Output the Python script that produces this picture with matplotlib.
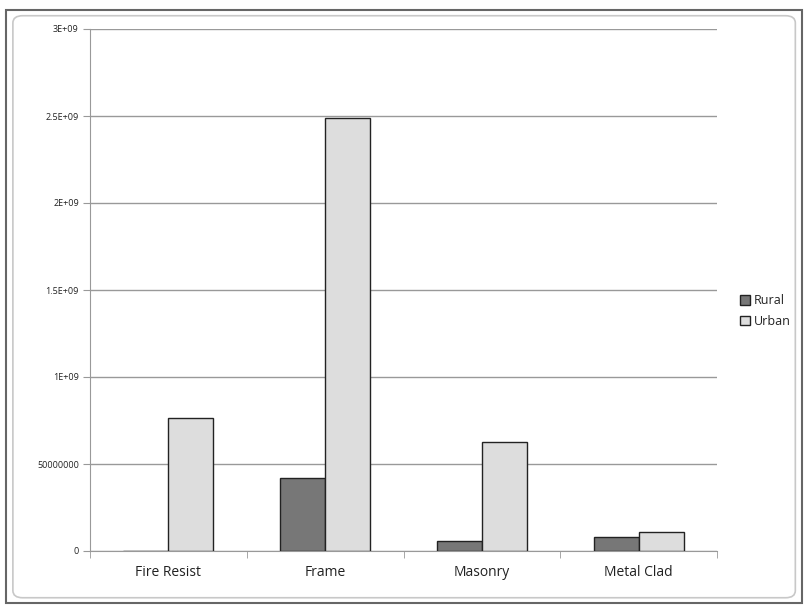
import numpy as np
import matplotlib.pyplot as plt
from matplotlib.patches import Rectangle, FancyBboxPatch
from matplotlib.ticker import FixedLocator, NullFormatter

# building construction types and insured values
categories = ["Fire Resist", "Frame", "Masonry", "Metal Clad"]
rural = np.array([0, 4.2e8, 5.7e7, 8.0e7])
urban = np.array([7.64e8, 2.488e9, 6.26e8, 1.09e8])

ytick_values = [0, 5e8, 1e9, 1.5e9, 2e9, 2.5e9, 3e9]
ytick_labels = ["0", "50000000", "1E+09", "1.5E+09", "2E+09", "2.5E+09", "3E+09"]

plt.rcParams['font.family'] = ['Open Sans', 'DejaVu Sans']

fig = plt.figure(figsize=(8.05, 6.05), dpi=100)

# chart area frame
fig.patches.append(Rectangle((0.008, 0.004), 0.988, 0.98, transform=fig.transFigure,
                             fill=False, edgecolor="#666666", linewidth=1.5))
fig.patches.append(FancyBboxPatch((0.016, 0.012), 0.972, 0.962,
                                  boxstyle="round,pad=0,rounding_size=0.012",
                                  transform=fig.transFigure, fill=False,
                                  edgecolor="#c8c8c8", linewidth=1.2))

ax = fig.add_axes([90 / 805, 54 / 605, 627 / 805, 522 / 605])

x = np.arange(len(categories))
w = 45 / 156.75
ax.bar(x - w / 2, rural, w, color="#777777", edgecolor="#222222", linewidth=1.0,
       label="Rural", zorder=3)
ax.bar(x + w / 2, urban, w, color="#dddddd", edgecolor="#222222", linewidth=1.0,
       label="Urban", zorder=3)

ax.set_xlim(-0.5, len(categories) - 0.5)
ax.set_ylim(0, 3e9)

ax.set_yticks(ytick_values)
ax.set_yticklabels(ytick_labels, fontsize=6.5, color="#222222")
ax.yaxis.grid(True, color="#999999", linewidth=1.0, zorder=0)

ax.set_xticks(x)
ax.set_xticklabels(categories, fontsize=10, color="#222222")
ax.tick_params(axis="x", which="major", length=0, pad=10)
ax.xaxis.set_minor_locator(FixedLocator(np.arange(-0.5, len(categories), 1.0)))
ax.xaxis.set_minor_formatter(NullFormatter())
ax.tick_params(axis="x", which="minor", length=5, color="#999999", direction="out")
ax.tick_params(axis="y", length=5, color="#999999", direction="out", pad=3)

for side in ["top", "right"]:
    ax.spines[side].set_visible(False)
for side in ["left", "bottom"]:
    ax.spines[side].set_color("#999999")

leg = fig.legend(loc="upper left", bbox_to_anchor=(729 / 805, 1 - 283 / 605),
                 frameon=False, fontsize=9, handlelength=0.8, handleheight=0.8,
                 handletextpad=0.3, labelspacing=0.6)
for t in leg.get_texts():
    t.set_color("#222222")

fig.savefig("out.png", dpi=100)
